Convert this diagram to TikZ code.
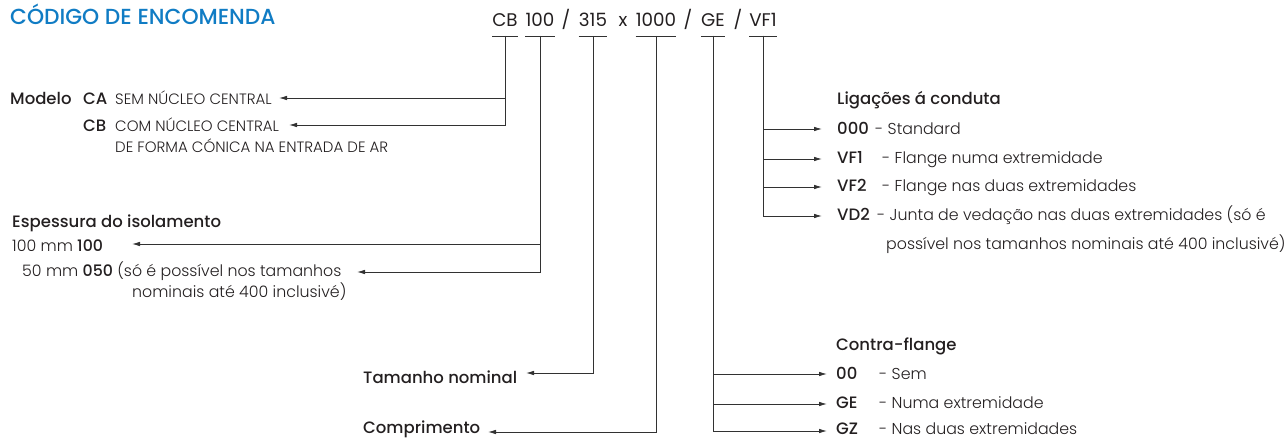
\documentclass[tikz,border=0pt]{standalone}
\usepackage{fontspec}
\setmainfont{Poppins Light}
\newfontfamily\medfont{Poppins Medium}
\newfontfamily\regfont{Poppins}
\usetikzlibrary{arrows.meta}

\definecolor{codeblue}{RGB}{16,124,196}
\definecolor{inkgray}{RGB}{35,31,32}
\definecolor{wiregray}{RGB}{50,50,50}

\tikzset{
  every node/.style={inner sep=0pt, text=inkgray},
  title/.style={anchor=base west, text=codeblue, font=\medfont\fontsize{21.8}{26}\selectfont},
  code/.style={anchor=base, font=\regfont\fontsize{18.3}{22}\selectfont},
  head/.style={anchor=base west, font=\medfont\fontsize{16.5}{20}\selectfont},
  body/.style={anchor=base west, font=\fontsize{15.8}{20}\selectfont},
  caps/.style={anchor=base west, font=\fontsize{15}{18}\selectfont},
  wire/.style={draw=wiregray, line width=0.8pt},
  feed/.style={wire, -{Latex[length=8pt, width=4.5pt]}},
}

\begin{document}
\begin{tikzpicture}[x=1pt, y=-1pt]
\useasboundingbox (0,0) rectangle (1288,438);

% Title and order code
\node[title] (title) at (10,25) {CÓDIGO DE ENCOMENDA};
\node[code] (kCB) at (505,27) {CB};
\node[code] (k100) at (540,27) {100};
\node[code] (sl1) at (566,27) {/};
\node[code] (k315) at (593,27) {315};
\node[code] (times) at (623,27) {x};
\node[code] (k1000) at (656,27) {1000};
\node[code] (sl2) at (688,27) {/};
\node[code] (kGE) at (713,27) {GE};
\node[code] (sl3) at (738,27) {/};
\node[code] (kVF1) at (763,27) {VF1};

% Underlines below the code parts
\draw[wire] ([yshift=-9pt]kCB.base west) -- ([yshift=-9pt]kCB.base east);
\draw[wire] ([yshift=-9pt]k100.base west) -- ([yshift=-9pt]k100.base east);
\draw[wire] ([yshift=-9pt]k315.base west) -- ([yshift=-9pt]k315.base east);
\draw[wire] ([yshift=-9pt]k1000.base west) -- ([yshift=-9pt]k1000.base east);
\draw[wire] ([yshift=-9pt]kGE.base west) -- ([yshift=-9pt]kGE.base east);
\draw[wire] ([yshift=-9pt]kVF1.base west) -- ([yshift=-9pt]kVF1.base east);
\coordinate (uCB) at ([yshift=-9pt]kCB.base);
\coordinate (u100) at ([yshift=-9pt]k100.base);
\coordinate (u315) at ([yshift=-9pt]k315.base);
\coordinate (u1000) at ([yshift=-9pt]k1000.base);
\coordinate (uGE) at ([yshift=-9pt]kGE.base);
\coordinate (uVF1) at ([yshift=-9pt]kVF1.base);

% Modelo
\node[head] (modelo) at (10,105) {Modelo};
\node[head] (kCA) at (83,105) {CA};
\node[caps] (semCA) at (115,105) {SEM NÚCLEO CENTRAL};
\node[head] (kCBm) at (83,132) {CB};
\node[caps] (comCB) at (115,132) {COM NÚCLEO CENTRAL};
\node[caps] (comCB2) at (115,153) {DE FORMA CÓNICA NA ENTRADA DE AR};
\coordinate (tCA) at (279,98);
\coordinate (tCB) at (289,125);

% Espessura do isolamento
\node[head] (espessura) at (12,228) {Espessura do isolamento};
\node[body] (esp100) at (12,252) {100 mm {\medfont 100}};
\node[body] (esp050) at (22,277) {50 mm {\medfont 050} (só é possível nos tamanhos};
\node[body] (esp050b) at (132,298) {nominais até 400 inclusivé)};
\coordinate (t100) at (132,244);
\coordinate (t050) at (357,272);

% Tamanho nominal and Comprimento
\node[head] (tamanho) at (363,383) {Tamanho nominal};
\node[head] (compr) at (363,433) {Comprimento};
\coordinate (tTam) at (526,373);
\coordinate (tComp) at (488,432);

% Ligacoes a conduta
\node[head] (ligacoes) at (837,105) {Ligações á conduta};
\node[head] (l000) at (837,135) {000};
\node[body] (d000) at (875,135) {- Standard};
\node[head] (lVF1) at (837,164) {VF1};
\node[body] (dVF1) at (882,164) {- Flange numa extremidade};
\node[head] (lVF2) at (837,192) {VF2};
\node[body] (dVF2) at (882,192) {- Flange nas duas extremidades};
\node[head] (lVD2) at (837,221) {VD2};
\node[body] (dVD2) at (877,221) {- Junta de vedação nas duas extremidades (só é};
\node[body] (dVD2b) at (886,250) {possível nos tamanhos nominais até 400 inclusivé)};
\coordinate (t000) at (822,129);
\coordinate (tVF1) at (822,159);
\coordinate (tVF2) at (822,187);
\coordinate (tVD2) at (822,216);

% Contra-flange
\node[head] (contra) at (836,350) {Contra-flange};
\node[head] (l00) at (836,379) {00};
\node[body] (d00) at (879,379) {- Sem};
\node[head] (lGE) at (836,408) {GE};
\node[body] (dGE) at (879,408) {- Numa extremidade};
\node[head] (lGZ) at (836,434) {GZ};
\node[body] (dGZ) at (879,434) {- Nas duas extremidades};
\coordinate (t00) at (827,374);
\coordinate (tGE) at (827,404);
\coordinate (tGZ) at (827,431);

% Connectors
\draw[feed] (uCB) |- (tCA);
\draw[feed] (uCB) |- (tCB);
\draw[feed] (u100) |- (t100);
\draw[feed] (u100) |- (t050);
\draw[feed] (u315) |- (tTam);
\draw[feed] (u1000) |- (tComp);
\draw[feed] (uGE) |- (t00);
\draw[feed] (uGE) |- (tGE);
\draw[feed] (uGE) |- (tGZ);
\draw[feed] (uVF1) |- (t000);
\draw[feed] (uVF1) |- (tVF1);
\draw[feed] (uVF1) |- (tVF2);
\draw[feed] (uVF1) |- (tVD2);

\end{tikzpicture}
\end{document}
